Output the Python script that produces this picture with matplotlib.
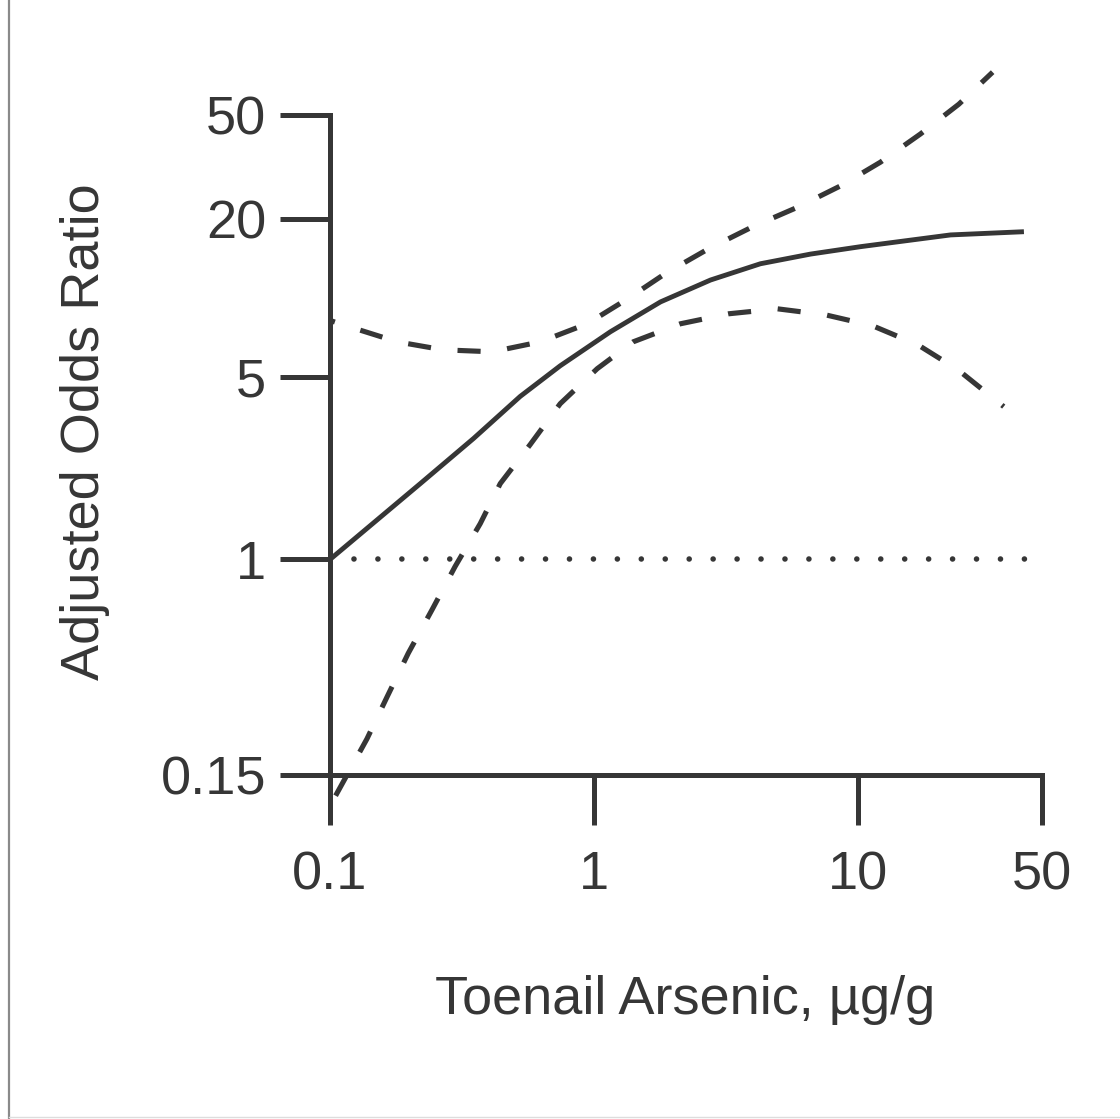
import matplotlib
matplotlib.use("Agg")
import matplotlib.pyplot as plt
from matplotlib.lines import Line2D

plt.rcParams['font.family'] = ['Liberation Sans', 'DejaVu Sans']

# values (log-log axes)
x_fit = [0.1, 0.22, 0.35, 0.526, 0.746, 1.156, 1.79, 2.77, 4.28, 6.63,
         10.3, 22.5, 42.7]
or_fit = [1.0, 1.95, 2.9, 4.2, 5.5, 7.42, 9.65, 11.7, 13.5, 14.7,
          15.7, 17.4, 17.9]

x_upper = [0.1, 0.109, 0.18, 0.268, 0.412, 0.627, 0.944, 1.34, 1.87, 2.72,
           4.0, 5.92, 8.62, 12.2, 17.3, 24.2, 32.5]
or_upper = [8.2, 7.96, 6.79, 6.33, 6.22, 6.79, 7.96, 9.9, 12.4, 15.4,
            18.7, 22.2, 26.8, 33.0, 42.3, 55.0, 72.9]

x_lower = [0.105, 0.138, 0.165, 0.198, 0.244, 0.298, 0.371, 0.442, 0.574,
           0.746, 1.03, 1.41, 2.13, 3.24, 4.97, 7.56, 11.4, 16.9, 24.0, 35.8]
or_lower = [0.125, 0.206, 0.30, 0.438, 0.644, 0.94, 1.37, 1.95, 2.75,
            3.94, 5.36, 6.79, 7.96, 8.69, 9.08, 8.61, 7.82, 6.62, 5.31, 3.84]

x_ref = [0.1, 50]
or_ref = [1, 1]

xticks = [0.1, 1, 10, 50]
xtick_labels = ['0.1', '1', '10', '50']
yticks = [0.15, 1, 5, 20, 50]
ytick_labels = ['0.15', '1', '5', '20', '50']

ink = '#363636'

fig = plt.figure(figsize=(11.2, 11.19), dpi=100)
fig.patch.set_facecolor('white')
ax = fig.add_axes([330 / 1120, 344 / 1119, 712 / 1120, 660 / 1119])
ax.set_xscale('log')
ax.set_yscale('log')
ax.set_xlim(0.1, 50)
ax.set_ylim(0.15, 50)

ax.plot(x_ref, or_ref, color=ink, lw=4.0, linestyle=(0, (0.01, 4.3)),
        dash_capstyle='round', clip_on=False)
ax.plot(x_fit, or_fit, color=ink, lw=3.5, solid_capstyle='butt',
        solid_joinstyle='round', clip_on=False)
ax.plot(x_upper, or_upper, color=ink, lw=3.7, linestyle=(3.5, (4.5, 5.2)),
        clip_on=False)
ax.plot(x_lower, or_lower, color=ink, lw=3.7, linestyle=(0, (4.5, 5.2)),
        clip_on=False)

for s in ['top', 'right']:
    ax.spines[s].set_visible(False)
for s in ['left', 'bottom']:
    ax.spines[s].set_linewidth(3.6)
    ax.spines[s].set_color(ink)

ax.set_xticks(xticks)
ax.set_xticklabels(xtick_labels)
ax.set_yticks(yticks)
ax.set_yticklabels(ytick_labels)
ax.minorticks_off()
ax.tick_params(axis='both', direction='out', length=36, width=3.6,
               color=ink, labelcolor=ink, labelsize=39)
ax.tick_params(axis='x', pad=18)
ax.tick_params(axis='y', pad=10)

ax.set_xlabel('Toenail Arsenic, µg/g', fontsize=39, color=ink, va='center')
ax.xaxis.set_label_coords(0.4986, -0.341)
ax.set_ylabel('Adjusted Odds Ratio', fontsize=39, color=ink, va='center')
ax.yaxis.set_label_coords(-0.344, 0.52)

# frame of the scanned page
fig.add_artist(Line2D([9 / 1120, 9 / 1120], [0, 1], transform=fig.transFigure,
                      color='#8a8a8a', lw=1.6))
fig.add_artist(Line2D([9 / 1120, 1], [2 / 1119, 2 / 1119],
                      transform=fig.transFigure, color='#dddddd', lw=1.0))

fig.savefig('out.png', dpi=100)
